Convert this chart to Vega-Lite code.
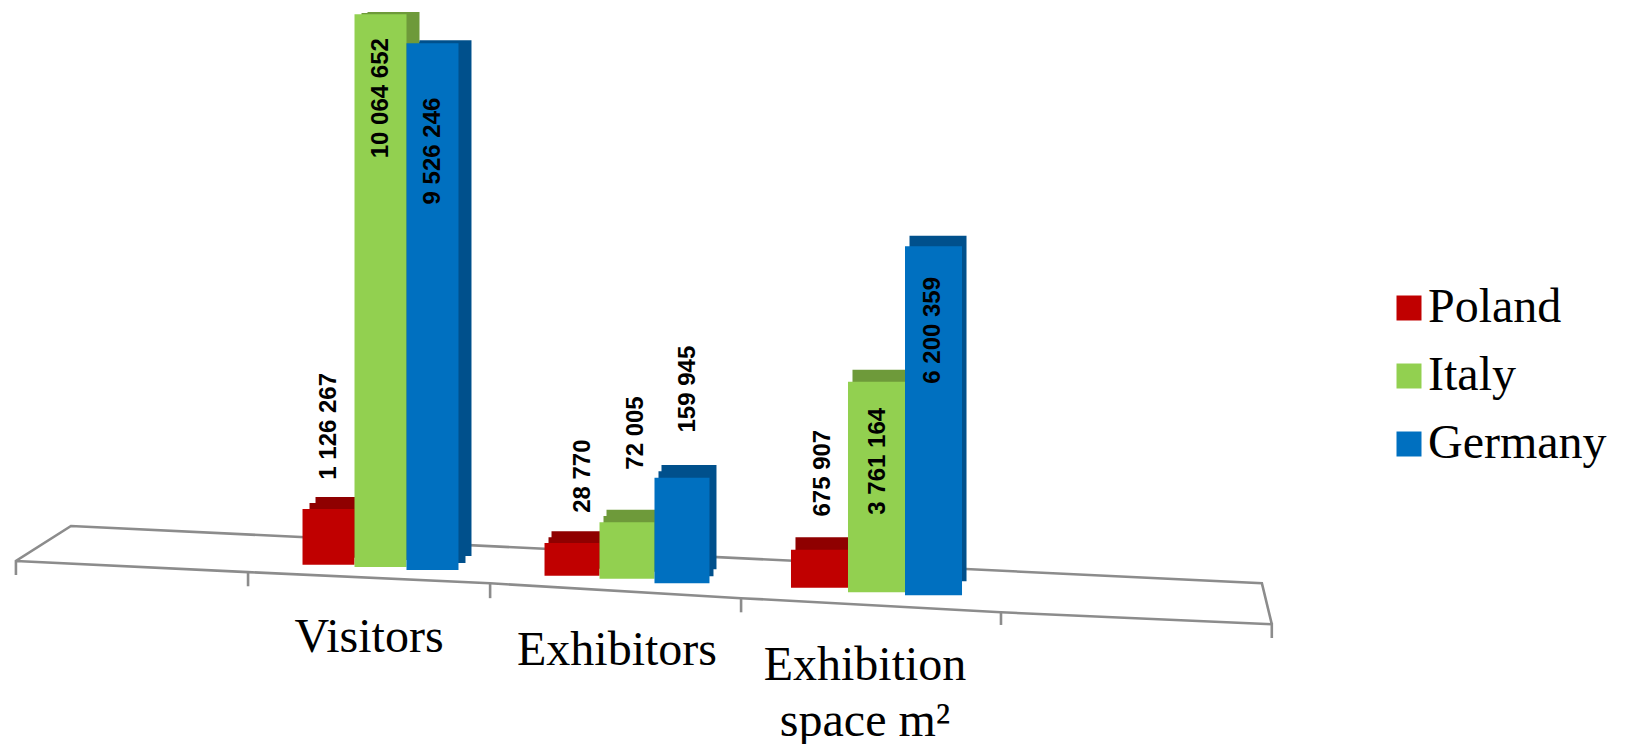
{"$schema":"https://vega.github.io/schema/vega-lite/v6.json","width":1626,"height":744,"padding":0,"autosize":"none","background":"white","config":{"view":{"stroke":null}},
"datasets":{
"bars":[
{"group":"Visitors","country":"Poland","value":1126267,"label":"1 126 267","top":31.6,"top_back":33.2,"base":24.1,"label_at":42.7},
{"group":"Visitors","country":"Italy","value":10064652,"label":"10 064 652","top":98.1,"top_back":98.4,"base":23.8,"label_at":86.8},
{"group":"Visitors","country":"Germany","value":9526246,"label":"9 526 246","top":94.2,"top_back":94.6,"base":23.4,"label_at":79.7},
{"group":"Exhibitors","country":"Poland","value":28770,"label":"28 770","top":27.0,"top_back":28.6,"base":22.6,"label_at":36.0},
{"group":"Exhibitors","country":"Italy","value":72005,"label":"72  005","top":29.8,"top_back":31.5,"base":22.2,"label_at":41.8},
{"group":"Exhibitors","country":"Germany","value":159945,"label":"159  945","top":35.8,"top_back":37.5,"base":21.6,"label_at":47.7},
{"group":"Exhibition","country":"Poland","value":675907,"label":"675 907","top":26.1,"top_back":27.8,"base":21.0,"label_at":36.4},
{"group":"Exhibition","country":"Italy","value":3761164,"label":"3 761 164","top":48.7,"top_back":50.3,"base":20.4,"label_at":38.0},
{"group":"Exhibition","country":"Germany","value":6200359,"label":"6 200 359","top":66.9,"top_back":68.3,"base":20.0,"label_at":55.6}
],
"cats":[
{"group":"Visitors","name":"Visitors","at":14.2},
{"group":"Exhibitors","name":"Exhibitors","at":12.5},
{"group":"Exhibition","name":"Exhibition\nspace m²","at":10.5}
],
"floor":[
{"seg":"outline","ord":1,"slot":0.036,"level":22.7},
{"seg":"outline","ord":2,"slot":0.036,"level":24.6},
{"seg":"outline","ord":3,"slot":0.258,"level":29.3},
{"seg":"outline","ord":4,"slot":5.06,"level":21.6},
{"seg":"outline","ord":5,"slot":5.10,"level":16.1},
{"seg":"outline","ord":6,"slot":5.10,"level":14.25},
{"seg":"outline","ord":7,"slot":5.10,"level":16.1},
{"seg":"outline","ord":8,"slot":4.008,"level":17.7},
{"seg":"outline","ord":9,"slot":2.96,"level":19.6},
{"seg":"outline","ord":10,"slot":1.948,"level":21.6},
{"seg":"outline","ord":11,"slot":0.972,"level":23.1},
{"seg":"outline","ord":12,"slot":0.036,"level":24.6},
{"seg":"t1","ord":1,"slot":0.972,"level":23.1},
{"seg":"t1","ord":2,"slot":0.972,"level":21.2},
{"seg":"t2","ord":1,"slot":1.948,"level":21.6},
{"seg":"t2","ord":2,"slot":1.948,"level":19.6},
{"seg":"t3","ord":1,"slot":2.96,"level":19.6},
{"seg":"t3","ord":2,"slot":2.96,"level":17.7},
{"seg":"t4","ord":1,"slot":4.008,"level":17.7},
{"seg":"t4","ord":2,"slot":4.008,"level":16.0}
]},
"resolve":{"scale":{"x":"independent","xOffset":"independent","color":"independent"}},
"layer":[
{"data":{"name":"floor"},"mark":{"type":"line","color":"#8c8c8c","strokeWidth":2.6},
"encoding":{"x":{"field":"slot","type":"quantitative","axis":null,"scale":{"domain":[0,5],"range":[7,1247],"nice":false,"zero":false}},"y":{"field":"level","type":"quantitative","axis":null,"scale":{"domain":[0,100],"nice":false}},"detail":{"field":"seg"},"order":{"field":"ord"}}},

{"data":{"name":"bars"},"transform":[{"filter":"datum.group==='Visitors'"},{"calculate":"(datum.top+datum.top_back)/2","as":"top_mid"}],"mark":{"type":"bar","y2Offset":-7},"encoding":{"x":{"field":"group","type":"nominal","axis":null,"scale":{"type":"band","domain":["left","Visitors","Exhibitors","Exhibition","right"],"range":[15.5,1255.5],"paddingInner":0,"paddingOuter":0}},"xOffset":{"field":"country","type":"nominal","scale":{"domain":["Poland","Italy","Germany"],"paddingInner":0,"paddingOuter":0.885}},"y":{"field":"top_mid","type":"quantitative","axis":null},"y2":{"field":"base"},"color":{"field":"country","type":"nominal","legend":null,"scale":{"domain":["Poland","Italy","Germany"],"range":["#8f0000","#6e9a3a","#00508c"]}}}},
{"data":{"name":"bars"},"transform":[{"filter":"datum.group==='Visitors'"}],"mark":{"type":"bar","y2Offset":-14},"encoding":{"x":{"field":"group","type":"nominal","axis":null,"scale":{"type":"band","domain":["left","Visitors","Exhibitors","Exhibition","right"],"range":[21.5,1261.5],"paddingInner":0,"paddingOuter":0}},"xOffset":{"field":"country","type":"nominal","scale":{"domain":["Poland","Italy","Germany"],"paddingInner":0,"paddingOuter":0.885}},"y":{"field":"top_back","type":"quantitative","axis":null},"y2":{"field":"base"},"color":{"field":"country","type":"nominal","legend":null,"scale":{"domain":["Poland","Italy","Germany"],"range":["#8f0000","#6e9a3a","#00508c"]}}}},

{"data":{"name":"bars"},"transform":[{"filter":"datum.group==='Exhibitors'"},{"calculate":"(datum.top+datum.top_back)/2","as":"top_mid"}],"mark":{"type":"bar","y2Offset":-7},"encoding":{"x":{"field":"group","type":"nominal","axis":null,"scale":{"type":"band","domain":["left","Visitors","Exhibitors","Exhibition","right"],"range":[11,1251],"paddingInner":0,"paddingOuter":0}},"xOffset":{"field":"country","type":"nominal","scale":{"domain":["Poland","Italy","Germany"],"paddingInner":0,"paddingOuter":0.755}},"y":{"field":"top_mid","type":"quantitative","axis":null},"y2":{"field":"base"},"color":{"field":"country","type":"nominal","legend":null,"scale":{"domain":["Poland","Italy","Germany"],"range":["#8f0000","#6e9a3a","#00508c"]}}}},
{"data":{"name":"bars"},"transform":[{"filter":"datum.group==='Exhibitors'"}],"mark":{"type":"bar","y2Offset":-14},"encoding":{"x":{"field":"group","type":"nominal","axis":null,"scale":{"type":"band","domain":["left","Visitors","Exhibitors","Exhibition","right"],"range":[14,1254],"paddingInner":0,"paddingOuter":0}},"xOffset":{"field":"country","type":"nominal","scale":{"domain":["Poland","Italy","Germany"],"paddingInner":0,"paddingOuter":0.755}},"y":{"field":"top_back","type":"quantitative","axis":null},"y2":{"field":"base"},"color":{"field":"country","type":"nominal","legend":null,"scale":{"domain":["Poland","Italy","Germany"],"range":["#8f0000","#6e9a3a","#00508c"]}}}},

{"data":{"name":"bars"},"transform":[{"filter":"datum.group==='Exhibition'"}],"mark":{"type":"bar","y2Offset":-14},"encoding":{"x":{"field":"group","type":"nominal","axis":null,"scale":{"type":"band","domain":["left","Visitors","Exhibitors","Exhibition","right"],"range":[13,1253],"paddingInner":0,"paddingOuter":0}},"xOffset":{"field":"country","type":"nominal","scale":{"domain":["Poland","Italy","Germany"],"paddingInner":0,"paddingOuter":0.675}},"y":{"field":"top_back","type":"quantitative","axis":null},"y2":{"field":"base"},"color":{"field":"country","type":"nominal","legend":null,"scale":{"domain":["Poland","Italy","Germany"],"range":["#8f0000","#6e9a3a","#00508c"]}}}},

{"data":{"name":"bars"},"transform":[{"filter":"datum.group==='Visitors'"}],"mark":{"type":"bar"},"encoding":{"x":{"field":"group","type":"nominal","axis":null,"scale":{"type":"band","domain":["left","Visitors","Exhibitors","Exhibition","right"],"range":[8.5,1248.5],"paddingInner":0,"paddingOuter":0}},"xOffset":{"field":"country","type":"nominal","scale":{"domain":["Poland","Italy","Germany"],"paddingInner":0,"paddingOuter":0.885}},"y":{"field":"top","type":"quantitative","axis":null},"y2":{"field":"base"},"color":{"field":"country","type":"nominal","scale":{"domain":["Poland","Italy","Germany"],"range":["#C00000","#92D050","#0070C0"]},"legend":{"orient":"none","legendX":1385,"legendY":284,"title":null,"symbolType":"square","symbolSize":625,"symbolStrokeWidth":0,"symbolOpacity":1,"labelFont":"Liberation Serif","labelFontSize":48,"labelColor":"#000000","labelOffset":-5,"rowPadding":20,"labelLimit":300}}}},
{"data":{"name":"bars"},"transform":[{"filter":"datum.group==='Exhibitors'"}],"mark":{"type":"bar"},"encoding":{"x":{"field":"group","type":"nominal","axis":null,"scale":{"type":"band","domain":["left","Visitors","Exhibitors","Exhibition","right"],"range":[7,1247],"paddingInner":0,"paddingOuter":0}},"xOffset":{"field":"country","type":"nominal","scale":{"domain":["Poland","Italy","Germany"],"paddingInner":0,"paddingOuter":0.755}},"y":{"field":"top","type":"quantitative","axis":null},"y2":{"field":"base"},"color":{"field":"country","type":"nominal","legend":null,"scale":{"domain":["Poland","Italy","Germany"],"range":["#C00000","#92D050","#0070C0"]}}}},
{"data":{"name":"bars"},"transform":[{"filter":"datum.group==='Exhibition'"}],"mark":{"type":"bar"},"encoding":{"x":{"field":"group","type":"nominal","axis":null,"scale":{"type":"band","domain":["left","Visitors","Exhibitors","Exhibition","right"],"range":[8.5,1248.5],"paddingInner":0,"paddingOuter":0}},"xOffset":{"field":"country","type":"nominal","scale":{"domain":["Poland","Italy","Germany"],"paddingInner":0,"paddingOuter":0.675}},"y":{"field":"top","type":"quantitative","axis":null},"y2":{"field":"base"},"color":{"field":"country","type":"nominal","legend":null,"scale":{"domain":["Poland","Italy","Germany"],"range":["#C00000","#92D050","#0070C0"]}}}},

{"data":{"name":"bars"},"transform":[{"filter":"datum.group==='Visitors'"}],"mark":{"type":"text","angle":270,"font":"Liberation Sans","fontWeight":"bold","fontSize":24,"color":"#000000","align":"center","baseline":"middle"},"encoding":{"x":{"field":"group","type":"nominal","axis":null,"scale":{"type":"band","domain":["left","Visitors","Exhibitors","Exhibition","right"],"range":[8.5,1248.5],"paddingInner":0,"paddingOuter":0}},"xOffset":{"field":"country","type":"nominal","scale":{"type":"point","domain":["Poland","Italy","Germany"],"range":[72,176],"padding":0}},"y":{"field":"label_at","type":"quantitative","axis":null},"text":{"field":"label"}}},
{"data":{"name":"bars"},"transform":[{"filter":"datum.group==='Exhibitors'"}],"mark":{"type":"text","angle":270,"font":"Liberation Sans","fontWeight":"bold","fontSize":24,"color":"#000000","align":"center","baseline":"middle"},"encoding":{"x":{"field":"group","type":"nominal","axis":null,"scale":{"type":"band","domain":["left","Visitors","Exhibitors","Exhibition","right"],"range":[16,1256],"paddingInner":0,"paddingOuter":0}},"xOffset":{"field":"country","type":"nominal","scale":{"type":"point","domain":["Poland","Italy","Germany"],"range":[71,176],"padding":0}},"y":{"field":"label_at","type":"quantitative","axis":null},"text":{"field":"label"}}},
{"data":{"name":"bars"},"transform":[{"filter":"datum.group==='Exhibition'"}],"mark":{"type":"text","angle":270,"font":"Liberation Sans","fontWeight":"bold","fontSize":24,"color":"#000000","align":"center","baseline":"middle"},"encoding":{"x":{"field":"group","type":"nominal","axis":null,"scale":{"type":"band","domain":["left","Visitors","Exhibitors","Exhibition","right"],"range":[8.5,1248.5],"paddingInner":0,"paddingOuter":0}},"xOffset":{"field":"country","type":"nominal","scale":{"type":"point","domain":["Poland","Italy","Germany"],"range":[70,180],"padding":0}},"y":{"field":"label_at","type":"quantitative","axis":null},"text":{"field":"label"}}},

{"data":{"name":"cats"},"mark":{"type":"text","font":"Liberation Serif","fontSize":48,"color":"#000000","align":"center","baseline":"middle","lineBreak":"\n","lineHeight":56},"encoding":{"x":{"field":"group","type":"nominal","axis":null,"scale":{"type":"band","domain":["left","Visitors","Exhibitors","Exhibition","right"],"range":[-3,1237],"paddingInner":0,"paddingOuter":0}},"y":{"field":"at","type":"quantitative","axis":null},"text":{"field":"name"}}}
]}
